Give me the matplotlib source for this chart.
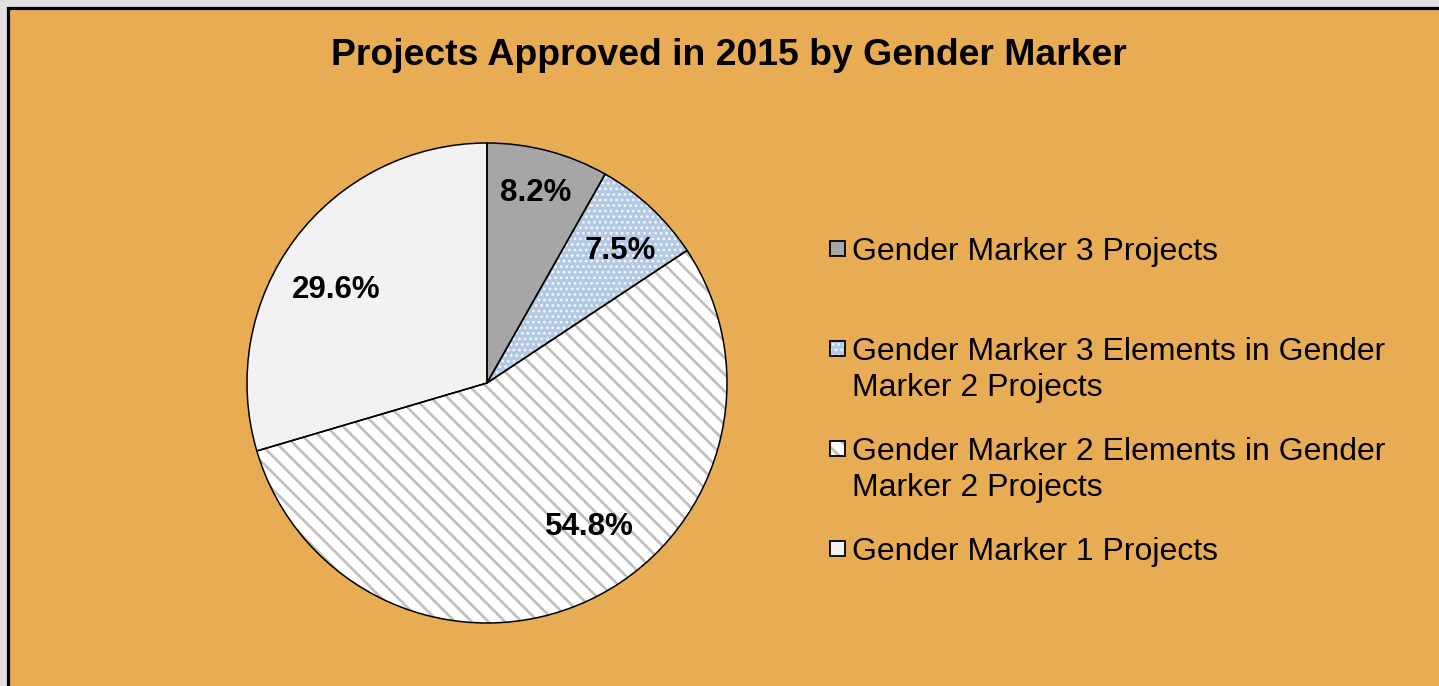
import numpy as np
import matplotlib
matplotlib.use('Agg')
import matplotlib.pyplot as plt
from matplotlib.patches import Rectangle
from matplotlib.transforms import offset_copy

plt.rcParams['font.family'] = ['Liberation Sans', 'DejaVu Sans']
plt.rcParams['hatch.linewidth'] = 2.0

# 資料
title = 'Projects Approved in 2015 by Gender Marker'
labels = ['Gender Marker 3 Projects',
          'Gender Marker 3 Elements in Gender\nMarker 2 Projects',
          'Gender Marker 2 Elements in Gender\nMarker 2 Projects',
          'Gender Marker 1 Projects']
shares = [8.2, 7.5, 54.8, 29.6]
pct_text = ['8.2%', '7.5%', '54.8%', '29.6%']

# 樣式
faces = ['#A6A6A6', '#B3C9E3', '#FFFFFF', '#F2F2F2']
hatches = [None, '...', '\\\\', None]
hatch_cols = ['#A6A6A6', '#F4F8FC', '#BEBEBE', '#F2F2F2']
hatch_lw = [1, 1.2, 1.9, 1]
lab_r = [0.83, 0.79, 0.725, 0.745]
lab_shift = [0.5, -1.5, 10.9, 4.3]


def style_patch(p, fc, hc, ht, lw):
    p.set_facecolor(fc)
    p.set_edgecolor(hc)
    p.set_linewidth(0)
    if ht:
        p.set_hatch(ht)
        try:
            p.set_hatch_linewidth(lw)
        except AttributeError:
            pass


W, H = 1439, 686
fig = plt.figure(figsize=(W/100, H/100), dpi=100)
fig.patch.set_facecolor('#E1E1E1')

# 橘色底框
fig.patches.append(Rectangle((8/W, -0.05), 1.1, 1 - 8/H + 0.05, transform=fig.transFigure,
                             facecolor='#E8AC55', edgecolor='black', linewidth=2.3, zorder=-5))

fig.text(729/W, 1 - 65/H, title, ha='center', va='baseline', fontsize=26.9, fontweight='bold')

ax = fig.add_axes([247/W, (H - 623)/H, 480/W, 480/H])
ax.set_facecolor('none')
ax.set_zorder(2)

wedges, _ = ax.pie(shares, startangle=90, counterclock=False, radius=1,
                   wedgeprops=dict(linewidth=0))
for w, fc, hc, ht, lw in zip(wedges, faces, hatch_cols, hatches, hatch_lw):
    style_patch(w, fc, hc, ht, lw)
# 外框線
ax.pie(shares, startangle=90, counterclock=False, radius=1,
       wedgeprops=dict(fill=False, edgecolor='black', linewidth=1.1))

lab_tr = offset_copy(ax.transData, fig=fig, x=0, y=-3, units='dots')
for w, t, r, s in zip(wedges, pct_text, lab_r, lab_shift):
    ang = np.deg2rad((w.theta1 + w.theta2) / 2 + s)
    ax.text(r*np.cos(ang), r*np.sin(ang), t, ha='center', va='center',
            fontsize=22.5, fontweight='bold', transform=lab_tr)

ax.set_xlim(-1, 1)
ax.set_ylim(-1, 1)
ax.set_aspect('equal')
ax.axis('off')

# 圖例
for i, (lab, fc, hc, ht, lw) in enumerate(zip(labels, faces, hatch_cols, hatches, hatch_lw)):
    yb = 1 - (260 + i*100)/H
    sq = Rectangle((830/W, yb + 4/H), 15/W, 15/H, transform=fig.transFigure, zorder=2)
    style_patch(sq, fc, hc, ht, lw)
    fig.patches.append(sq)
    fig.patches.append(Rectangle((830/W, yb + 4/H), 15/W, 15/H, transform=fig.transFigure,
                                 fill=False, edgecolor='black', linewidth=1.3, zorder=3))
    for j, line in enumerate(lab.split('\n')):
        fig.text(852/W, yb - j*36/H, line, ha='left', va='baseline', fontsize=23)

plt.savefig('out.png', dpi=100, facecolor=fig.get_facecolor())
